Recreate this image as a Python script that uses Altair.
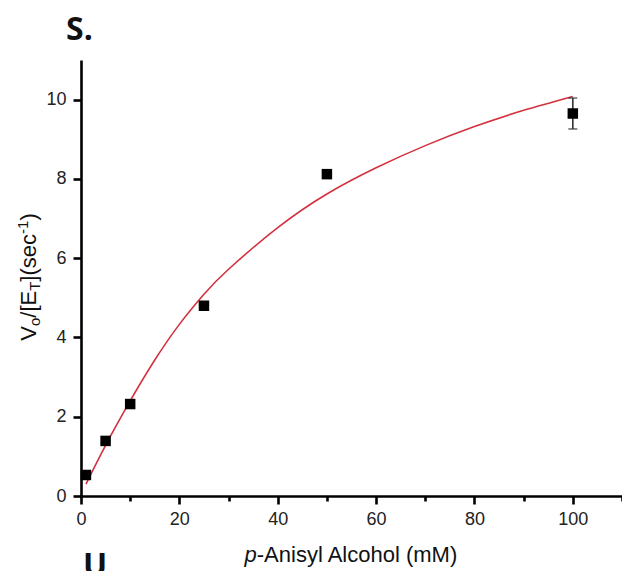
import altair as alt
import pandas as pd

# Measured turnover (V0/[ET], s^-1) versus p-anisyl alcohol concentration (mM)
conc_mM = [1, 5, 10, 25, 50, 100]
rate = [0.53, 1.39, 2.32, 4.80, 8.12, 9.65]
rate_err = [0.0, 0.0, 0.0, 0.0, 0.0, 0.39]

# Saturation fit curve, sampled along the concentration range
fit_conc = [1, 5, 10, 15, 20, 25, 30, 40, 50, 60, 70, 80, 90, 100]
fit_rate = [0.30, 1.28, 2.40, 3.43, 4.33, 5.09, 5.72, 6.77, 7.62, 8.28, 8.84, 9.32, 9.73, 10.08]

x_tick_values = list(range(0, 111, 10))
y_tick_values = list(range(0, 12))

W, H = 541, 436
FONT = "Liberation Sans"

points = pd.DataFrame({"conc": conc_mM, "rate": rate, "err": rate_err})
points["lo"] = points["rate"] - points["err"]
points["hi"] = points["rate"] + points["err"]
fit = pd.DataFrame({"conc": fit_conc, "rate": fit_rate})

x_scale = alt.Scale(domain=[0, 110], nice=False, zero=False)
y_scale = alt.Scale(domain=[0, 11], nice=False, zero=False)

x_axis = alt.Axis(
    values=x_tick_values,
    labelExpr="datum.value % 20 === 0 ? datum.label : ''",
    tickSize={"condition": {"test": "datum.value % 20 === 0", "value": 8}, "value": 5},
    grid=False, title=None, labelFlush=False, labelOverlap=False,
    domainColor="black", domainWidth=2.6,
    tickColor="black", tickWidth=2.6,
    labelFont=FONT, labelFontSize=18, labelColor="#222222", labelPadding=6,
)
y_axis = alt.Axis(
    values=y_tick_values,
    labelExpr="datum.value % 2 === 0 ? datum.label : ''",
    tickSize={"condition": {"test": "datum.value % 2 === 0", "value": 8}, "value": 5},
    grid=False, title=None, labelFlush=False, labelOverlap=False,
    domainColor="black", domainWidth=2.6,
    tickColor="black", tickWidth=2.6,
    labelFont=FONT, labelFontSize=18, labelColor="#222222", labelPadding=7,
)

curve = alt.Chart(fit).mark_line(color="#d4313f", strokeWidth=1.6, interpolate="natural").encode(
    x=alt.X("conc:Q", scale=x_scale, axis=x_axis),
    y=alt.Y("rate:Q", scale=y_scale, axis=y_axis),
)

err_src = alt.Chart(points).transform_filter("datum.err > 0")
err_rule = err_src.mark_rule(color="#333333", strokeWidth=1.6).encode(
    x="conc:Q", y="lo:Q", y2="hi:Q"
)
err_cap_lo = err_src.mark_tick(color="#333333", orient="horizontal", size=9, thickness=1.6).encode(
    x="conc:Q", y="lo:Q"
)
err_cap_hi = err_src.mark_tick(color="#333333", orient="horizontal", size=9, thickness=1.6).encode(
    x="conc:Q", y="hi:Q"
)

squares = alt.Chart(points).mark_square(size=110, color="black", opacity=1).encode(
    x="conc:Q", y="rate:Q"
)

one = pd.DataFrame({"k": [0]})


def label(text, x, y, size, angle=0, style="normal", weight="normal", font=FONT, align="left"):
    return alt.Chart(one).mark_text(
        text=text, font=font, fontSize=size, fontStyle=style, fontWeight=weight,
        angle=angle, align=align, baseline="alphabetic", color="#111111",
    ).encode(x=alt.value(x), y=alt.value(y))


# Arial-metric advance widths (em units) for the characters in the axis titles
ADV = {"V": .667, "o": .556, "/": .278, "[": .278, "E": .667, "T": .611, "]": .278,
       "(": .333, ")": .333, "s": .5, "e": .556, "c": .5, "-": .333, "1": .556,
       "p": .556}


def width(text, size):
    return sum(ADV[ch] for ch in text) * size


# Rotated y title: V_o/[E_T](sec^-1)
MAIN, SMALL = 22, 15
y_pieces = [("V", MAIN, 0), ("o", SMALL, 4), ("/[E", MAIN, 0), ("T", SMALL, 4),
            ("](sec", MAIN, 0), ("-1", SMALL, -8), (")", MAIN, 0)]
total = sum(width(t, s) for t, s, _ in y_pieces)
base_x = -45
pos = H / 2 + total / 2 - 1
y_title = []
for t, s, shift in y_pieces:
    y_title.append(label(t, base_x + shift, pos, s, angle=270))
    pos -= width(t, s)

# x title: italic "p" followed by the rest
rest = "-Anisyl Alcohol (mM)"
rest_w = 9.167 * MAIN
p_w = width("p", MAIN)
x_start = W / 2 - (p_w + rest_w) / 2
x_title = [
    label("p", x_start, H + 66, MAIN, style="italic"),
    label(rest, x_start + p_w, H + 66, MAIN),
]

panel_tags = [
    label("S.", -15, -20, 32, weight="bold", font="Open Sans"),
    label("U", 2, H + 80, 32, weight="bold", font="Open Sans"),
]

chart = alt.layer(
    curve, err_rule, err_cap_lo, err_cap_hi, squares, *y_title, *x_title, *panel_tags
).properties(
    width=W, height=H,
    autosize=alt.AutoSizeParams(type="none"),
    padding={"left": 81, "top": 60, "right": 0, "bottom": 75},
).configure_view(stroke=None)

chart.save("out.html", embed_options={"renderer": "svg", "actions": False})
